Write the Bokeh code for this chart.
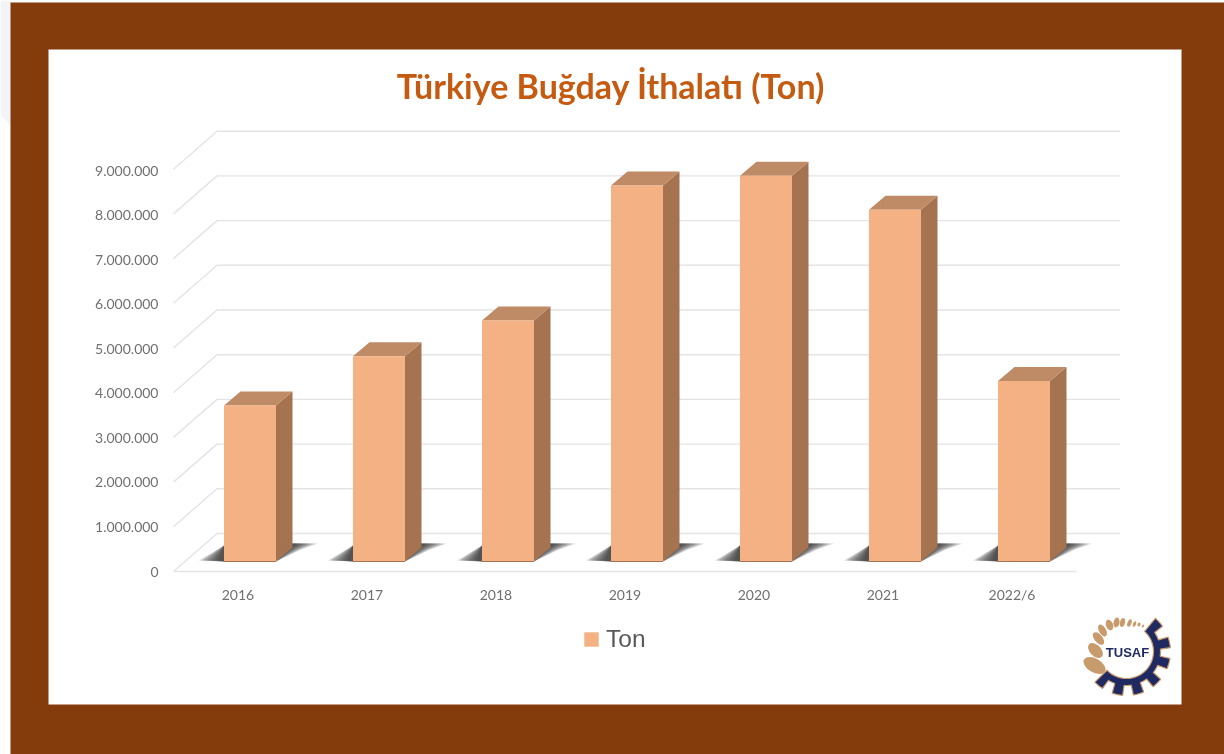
import math
from bokeh.embed import file_html
from bokeh.resources import INLINE
from bokeh.plotting import figure
from bokeh.core.properties import value
from bokeh.models import Range1d, LinearAxis, FixedTicker, Legend, LegendItem

# ---- data ----
categories = ["2016", "2017", "2018", "2019", "2020", "2021", "2022/6"]
tons = [3490000, 4590000, 5390000, 8410000, 8630000, 7870000, 4040000]
y_ticks = [0, 1000000, 2000000, 3000000, 4000000, 5000000, 6000000, 7000000, 8000000, 9000000]
y_labels = ["0", "1.000.000", "2.000.000", "3.000.000", "4.000.000", "5.000.000",
            "6.000.000", "7.000.000", "8.000.000", "9.000.000"]
title_text = "Türkiye Buğday İthalatı (Ton)"
series_name = "Ton"
logo_text = "TUSAF"

# ---- page scale ----
W, H = 1224, 754
CAT_PX = 129.0            # pixels per category
M_PX = 44.7               # pixels per 1 000 000 ton
LABEL_M_PX = 44.55        # the printed labels sit on a slightly tighter step
X0_PX, Y0_PX = 237.5, 571.0   # where category 0 / value 0 fall on the page


def dx(px):
    return px / CAT_PX


def dy(px):
    return px / M_PX * 1e6


BROWN = "#843C0C"
ORANGE = "#C55A11"
FACE = "#F4B183"
SIDE = "#A5734F"
TOP = "#BF8A66"
GRID = "#E4E4E4"
TEXT = "#707070"
NAVY = "#1F2A63"
GOLD = "#C89B6C"

p = figure(width=W, height=H, output_backend="svg", toolbar_location=None,
           x_axis_type=None, y_axis_type=None, min_border=0,
           x_range=Range1d(-X0_PX / CAT_PX, (W - X0_PX) / CAT_PX),
           y_range=Range1d((Y0_PX - H) / M_PX * 1e6, Y0_PX / M_PX * 1e6),
           background_fill_color="white", border_fill_color="white",
           outline_line_color=None)
p.styles = {"position": "fixed", "left": "0px", "top": "0px"}
p.grid.visible = False
p.extra_x_ranges["px"] = Range1d(0, W)
p.extra_y_ranges["px"] = Range1d(H, 0)
p.extra_y_ranges["labels"] = Range1d((Y0_PX - H) / LABEL_M_PX * 1e6, Y0_PX / LABEL_M_PX * 1e6)
PX = dict(x_range_name="px", y_range_name="px")

# ---- page furniture ----
p.patch([0, 10, 10, 0], [0, 0, 125, 114], fill_color="#F2F4F8", line_color=None, **PX)
p.quad(left=10, right=W, top=2, bottom=H, fill_color=BROWN, line_color=None, **PX)
p.quad(left=48, right=1181, top=49, bottom=704, fill_color="white", line_color=None, **PX)

# ---- walls and floor ----
LEFT = -0.5
RIGHT = len(categories) - 0.5
DEPTH_X = dx(43.5)
DEPTH_Y = dy(38.0)
gx, gy = [], []
for t in y_ticks:
    gx.append([LEFT, LEFT + DEPTH_X, RIGHT + DEPTH_X])
    gy.append([t, t + DEPTH_Y, t + DEPTH_Y])
p.multi_line(gx, gy, line_color=GRID, line_width=1.4)

# ---- bars ----
BAR_SHIFT = dx(12.0)
BAR_HALF = dx(26.0)
BAR_BASE = dy(10.0)
BAR_DX = dx(16.5)
BAR_DY = dy(14.0)
idx = list(range(len(categories)))
x0s = [i + BAR_SHIFT - BAR_HALF for i in idx]
x1s = [i + BAR_SHIFT + BAR_HALF for i in idx]
tops = [v + BAR_BASE for v in tons]

# soft floor shadows, built from translucent layers
for L, R in [(25, 42), (23, 39), (21, 36), (18, 33), (15, 30), (12, 27), (9, 24), (6, 21)]:
    xs, ys = [], []
    for a, b in zip(x0s, x1s):
        xs.append([a, a - dx(L), a])
        ys.append([BAR_BASE, BAR_BASE + dy(1), BAR_BASE + dy(16)])
        xs.append([b, b + dx(R * 0.6), b + dx(R), b + dx(16)])
        ys.append([BAR_BASE, BAR_BASE + dy(12), BAR_BASE + dy(18), BAR_BASE + dy(18)])
    p.patches(xs, ys, fill_color="#141414", fill_alpha=0.15, line_color=None)

side_x = [[b, b + BAR_DX, b + BAR_DX, b] for b in x1s]
side_y = [[BAR_BASE, BAR_BASE + BAR_DY, t + BAR_DY, t] for t in tops]
p.patches(side_x, side_y, fill_color=SIDE, line_color=None)
top_x = [[a, a + BAR_DX, b + BAR_DX, b] for a, b in zip(x0s, x1s)]
top_y = [[t, t + BAR_DY, t + BAR_DY, t] for t in tops]
p.patches(top_x, top_y, fill_color=TOP, line_color=None)
front = p.quad(left=x0s, right=x1s, bottom=BAR_BASE, top=tops,
               fill_color=FACE, line_color=None)
p.segment(x0s, [BAR_BASE] * 7, x1s, [BAR_BASE] * 7, line_color=SIDE, line_width=1.2)

# ---- axes ----
yaxis = LinearAxis(fixed_location=LEFT, y_range_name="labels", ticker=FixedTicker(ticks=y_ticks),
                   major_label_overrides=dict(zip(y_ticks, y_labels)),
                   major_label_text_color=TEXT, major_label_text_font="Lato",
                   major_label_text_font_size="14px", major_label_standoff=9,
                   axis_line_color=None, major_tick_line_color=None,
                   minor_tick_line_color=None)
p.add_layout(yaxis, "left")
xaxis = LinearAxis(fixed_location=0, ticker=FixedTicker(ticks=idx),
                   major_label_overrides=dict(zip(idx, categories)),
                   major_label_text_color=TEXT, major_label_text_font="Lato",
                   major_label_text_font_size="14px", major_label_standoff=8,
                   axis_line_color=GRID, axis_line_width=1.4, bounds=(LEFT, RIGHT),
                   major_tick_line_color=None, minor_tick_line_color=None)
p.add_layout(xaxis, "below")

# ---- title ----
p.text([610.5], [85], text=[title_text], text_font=value("Lato"),
       text_font_style="bold", text_font_size="34px", text_color=ORANGE,
       text_align="center", text_baseline="middle", **PX)

# ---- legend ----
legend = Legend(items=[LegendItem(label=series_name, renderers=[front])],
                location=(582, 101), orientation="horizontal",
                background_fill_alpha=0, border_line_color=None, padding=0, margin=0,
                glyph_width=18, glyph_height=18, label_standoff=6,
                label_text_font="Liberation Sans", label_text_font_size="24.5px",
                label_text_color="#595959", label_height=18)
p.add_layout(legend)

# ---- logo ----
CX, CY = 1126.0, 651.0
TEETH = (42, 12, -16, -46, -74, -102, -130)


def polar(r, deg):
    a = math.radians(deg)
    return CX + r * math.cos(a), CY - r * math.sin(a)


pts = [polar(27, a) for a in range(48, -137, -4)]
pts += [polar(44 if any(abs(a - c) <= 7 for c in TEETH) else 34, a) for a in range(-136, 50, 1)]
gx_, gy_ = zip(*pts)
p.patch(list(gx_), list(gy_), fill_color=NAVY, line_color=GOLD, line_width=1.2, **PX)

grains = [(1094, 665, 24, 14, -30), (1095, 650, 18, 11, -45), (1098, 638, 15, 8, -50),
          (1102, 630, 13, 7, -60), (1109, 624.5, 11, 7, -70), (1116, 622, 10, 6, 80),
          (1122, 622, 9, 5, 75), (1129, 622.5, 8, 4, 70), (1134, 623.5, 6, 3, 65),
          (1138.5, 624, 4, 3, 60), (1142.5, 625.5, 3, 2, 50)]
for gx0, gy0, w, h, ang in grains:
    p.ellipse([gx0], [gy0], width=w, height=h, width_units="screen", height_units="screen",
              angle=ang, angle_units="deg", fill_color=GOLD, line_color=None, **PX)
p.text([1127], [652], text=[logo_text], text_font=value("Liberation Sans"),
       text_font_style="bold", text_font_size="13px", text_color=NAVY,
       text_align="center", text_baseline="middle", **PX)

open("out.html", "w").write(file_html(p, INLINE))
